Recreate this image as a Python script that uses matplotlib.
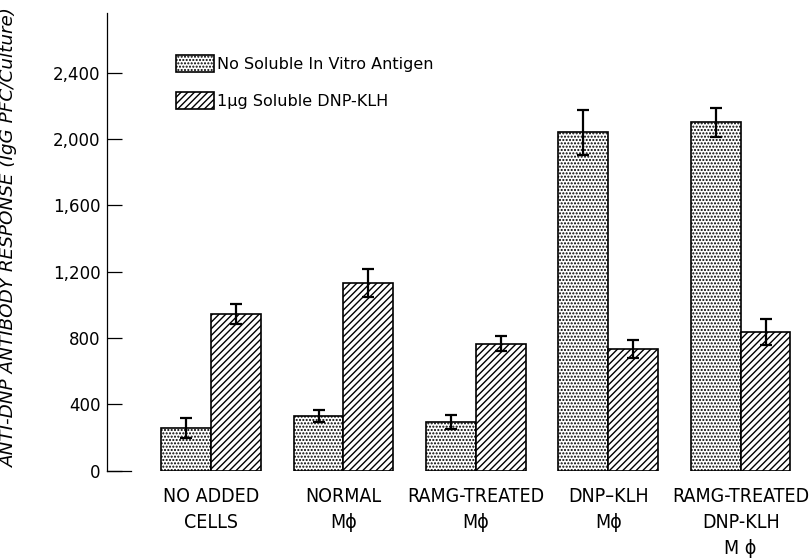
import matplotlib
matplotlib.use("Agg")
import matplotlib.pyplot as plt
import numpy as np

categories = ["NO ADDED\nCELLS", "NORMAL\nM\u03d5", "RAMG-TREATED\nM\u03d5",
              "DNP\u2013KLH\nM\u03d5", "RAMG-TREATED\nDNP-KLH\nM \u03d5"]
no_antigen = [260, 330, 295, 2040, 2100]
no_antigen_err = [60, 38, 42, 135, 85]
dnp_klh = [945, 1130, 765, 735, 835]
dnp_klh_err = [60, 85, 45, 55, 80]
yticks = [0, 400, 800, 1200, 1600, 2000, 2400]
ytick_labels = ["0", "400", "800", "1,200", "1,600", "2,000", "2,400"]
series_labels = ["No Soluble In Vitro Antigen", "1\u03bcg Soluble DNP-KLH"]
ylabel = "ANTI-DNP ANTIBODY RESPONSE (IgG PFC/Culture)"

plt.rcParams['hatch.linewidth'] = 1.0
plt.rcParams['font.family'] = ['DejaVu Sans']
plt.rcParams['patch.force_edgecolor'] = True
plt.rcParams['patch.edgecolor'] = 'black'
plt.rcParams['hatch.color'] = '#9a9a9a'

fig = plt.figure(figsize=(8.09, 5.58), dpi=100)
ax = fig.add_axes([0.1327, 0.1565, 0.8674, 0.8197])

x = np.arange(len(categories))
w = 0.376
b1 = ax.bar(x - w / 2, no_antigen, w, facecolor='white',
            linewidth=1.2, hatch='.....', label=series_labels[0], zorder=2)
b2 = ax.bar(x + w / 2, dnp_klh, w, facecolor='white', edgecolor='black',
            linewidth=1.2, hatch='/////', label=series_labels[1], zorder=2)
ax.errorbar(x - w / 2, no_antigen, yerr=no_antigen_err, fmt='none', ecolor='black',
            elinewidth=1.6, capsize=4.5, capthick=1.6, zorder=3)
ax.errorbar(x + w / 2, dnp_klh, yerr=dnp_klh_err, fmt='none', ecolor='black',
            elinewidth=1.6, capsize=4.5, capthick=1.6, zorder=3)

ax.set_xlim(-0.783, 4.517)
ax.set_ylim(0, 2758)

for s in ['top', 'right', 'bottom']:
    ax.spines[s].set_visible(False)
ax.spines['left'].set_linewidth(0.9)

ax.set_yticks(yticks)
ax.set_yticklabels(ytick_labels, fontsize=12)
ax.tick_params(axis='y', direction='in', length=11, width=0.9, pad=5)
ax.plot([0, 0.034], [0, 0], transform=ax.get_yaxis_transform(), color='black',
        lw=0.9, clip_on=False)

ax.set_xticks(x)
ax.set_xticklabels(categories, fontsize=14, linespacing=1.45,
                   fontstretch='condensed')
ax.tick_params(axis='x', length=0, pad=12)

ax.set_ylabel(ylabel, fontsize=13.2, style='italic')
ax.yaxis.set_label_coords(-0.127, 0.51)

ax.legend(loc='upper left', bbox_to_anchor=(0.0979, 0.909), frameon=False,
          fontsize=11.5, handlelength=2.4, handleheight=1.25, handletextpad=0.15,
          labelspacing=1.25, borderpad=0, borderaxespad=0)

fig.savefig("out.png", dpi=100)
